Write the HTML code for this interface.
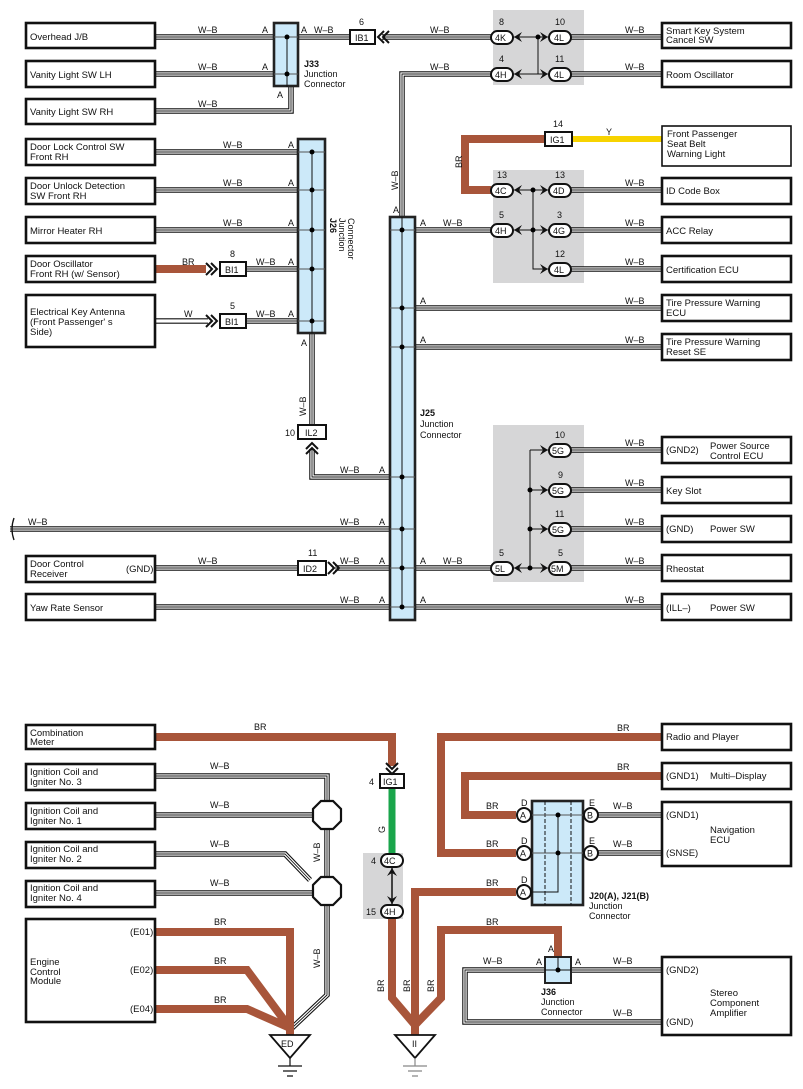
<!DOCTYPE html>
<html><head><meta charset="utf-8"><style>
html,body{margin:0;padding:0;background:#fff;}
svg{display:block;font-family:"Liberation Sans",Arial,sans-serif;}
text{font-size:9px;fill:#111;}
.b{fill:#fff;stroke:#111;stroke-width:2.6;}
.j{fill:#cce9f9;stroke:#222;stroke-width:2.6;}
.g{fill:#d6d6d7;}
.c{fill:#fff;stroke:#111;stroke-width:2;}
.br{fill:none;stroke:#a8553a;stroke-width:8;stroke-linejoin:miter;}
.bd{font-weight:bold;}
.t{font-size:9.5px;}
</style></head><body>
<svg width="803" height="1089" viewBox="0 0 803 1089" xmlns="http://www.w3.org/2000/svg">
<defs>
<g id="W" fill="none">
<path d="M155,37H273M298,37H350M382,37H491M571,37H662"/>
<path d="M155,74H273M491,74H402V217M571,74H662"/>
<path d="M155,111H291V87"/>
<path d="M155,152H298M155,190H298M155,230H298M246,269H298M246,321H298"/>
<path d="M312,333V425M312,449V477H390"/>
<path d="M571,190H662M415,230H491M571,230H662M571,269H662M415,308H662M415,347H662"/>
<path d="M571,450H662M571,490H662M571,529H662M571,568H662M415,568H491M415,607H662"/>
<path d="M10,529H390M155,568H298M335,568H390M155,607H390"/>
<path d="M155,776H327V800M155,815H313M155,854H285L310,880M155,893H313M327,829V876M327,904V995L292,1028"/>
<path d="M597,815H662M597,853H662M571,970H662M545,970H465V1022H662"/>
</g>
</defs>
<!-- gray boxes -->
<rect class="g" x="493" y="10" width="91" height="75"/>
<rect class="g" x="493" y="170" width="91" height="113"/>
<rect class="g" x="493" y="425" width="91" height="157"/>
<rect class="g" x="363" y="853" width="40" height="66"/>

<!-- W-B wires -->
<use href="#W" stroke="#111" stroke-width="5.5"/>
<use href="#W" stroke="#fff" stroke-width="3.3"/>
<use href="#W" stroke="#111" stroke-width="0.9"/>
<!-- W wire -->
<path d="M155,321H208" stroke="#111" stroke-width="5.5" fill="none"/>
<path d="M155,321H208" stroke="#fff" stroke-width="3.3" fill="none"/>

<!-- colored wires -->
<path class="br" d="M155,269H206"/>
<path class="br" d="M545,139H465V190H491"/>
<path d="M572,139H662" stroke="#f7d300" stroke-width="6"/>
<path class="br" d="M155,737H392V766"/>
<path d="M392,788V853" stroke="#1aa54b" stroke-width="7"/>
<path class="br" d="M155,932H290V1036M155,970H247L290,1028M155,1009H247L290,1028"/>
<path class="br" d="M392,919V998L415,1025V1036M516,892H415V1036M558,957V930H441V998L415,1025"/>
<path class="br" d="M662,737H441V853H516M662,776H465V815H516"/>

<!-- left boxes top -->
<rect class="b" x="26" y="23" width="129" height="25"/><text class="t" x="30" y="40">Overhead J/B</text>
<rect class="b" x="26" y="61" width="129" height="26"/><text class="t" x="30" y="78">Vanity Light SW LH</text>
<rect class="b" x="26" y="99" width="129" height="25"/><text class="t" x="30" y="115">Vanity Light SW RH</text>
<rect class="b" x="26" y="139" width="129" height="26"/><text class="t" x="30" y="150">Door Lock Control SW</text><text class="t" x="30" y="160">Front RH</text>
<rect class="b" x="26" y="178" width="129" height="26"/><text class="t" x="30" y="189">Door Unlock Detection</text><text class="t" x="30" y="199">SW Front RH</text>
<rect class="b" x="26" y="217" width="129" height="26"/><text class="t" x="30" y="234">Mirror Heater RH</text>
<rect class="b" x="26" y="256" width="129" height="26"/><text class="t" x="30" y="267">Door Oscillator</text><text class="t" x="30" y="277">Front RH (w/ Sensor)</text>
<rect class="b" x="26" y="295" width="129" height="52"/><text class="t" x="30" y="315">Electrical Key Antenna</text><text class="t" x="30" y="325">(Front Passenger' s</text><text class="t" x="30" y="335"> Side)</text>
<rect class="b" x="26" y="556" width="129" height="26"/><text class="t" x="30" y="567">Door Control</text><text class="t" x="30" y="577">Receiver</text><text class="t" x="126" y="572">(GND)</text>
<rect class="b" x="26" y="594" width="129" height="26"/><text class="t" x="30" y="611">Yaw Rate Sensor</text>

<!-- right boxes top -->
<rect class="b" x="662" y="23" width="129" height="25"/><text class="t" x="666" y="34">Smart Key System</text><text class="t" x="666" y="43">Cancel SW</text>
<rect class="b" x="662" y="61" width="129" height="26"/><text class="t" x="666" y="78">Room Oscillator</text>
<rect x="662" y="126" width="129" height="40" fill="#fff" stroke="#111" stroke-width="1.6"/><text class="t" x="667" y="137">Front Passenger</text><text class="t" x="667" y="147">Seat Belt</text><text class="t" x="667" y="157">Warning Light</text>
<rect class="b" x="662" y="178" width="129" height="26"/><text class="t" x="666" y="194">ID Code Box</text>
<rect class="b" x="662" y="217" width="129" height="26"/><text class="t" x="666" y="234">ACC Relay</text>
<rect class="b" x="662" y="256" width="129" height="26"/><text class="t" x="666" y="273">Certification ECU</text>
<rect class="b" x="662" y="295" width="129" height="26"/><text class="t" x="666" y="306">Tire Pressure Warning</text><text class="t" x="666" y="316">ECU</text>
<rect class="b" x="662" y="334" width="129" height="26"/><text class="t" x="666" y="345">Tire Pressure Warning</text><text class="t" x="666" y="355">Reset SE</text>
<rect class="b" x="662" y="437" width="129" height="26"/><text class="t" x="666" y="453">(GND2)</text><text class="t" x="710" y="449">Power Source</text><text class="t" x="710" y="459">Control ECU</text>
<rect class="b" x="662" y="477" width="129" height="26"/><text class="t" x="666" y="494">Key Slot</text>
<rect class="b" x="662" y="516" width="129" height="26"/><text class="t" x="666" y="532">(GND)</text><text class="t" x="710" y="532">Power SW</text>
<rect class="b" x="662" y="555" width="129" height="26"/><text class="t" x="666" y="572">Rheostat</text>
<rect class="b" x="662" y="594" width="129" height="26"/><text class="t" x="666" y="611">(ILL–)</text><text class="t" x="710" y="611">Power SW</text>

<!-- J33 -->
<rect class="j" x="274" y="23" width="24" height="63"/>
<path d="M274,37H298M274,74H298" stroke="#555" stroke-width="1"/>
<path d="M287,37V87" stroke="#111" stroke-width="1"/>
<circle cx="287" cy="37" r="2.5"/><circle cx="287" cy="74" r="2.5"/>
<text x="262" y="33">A</text><text x="262" y="70">A</text><text x="301" y="33">A</text><text x="277" y="98">A</text>
<text class="bd" x="304" y="67" font-weight="bold">J33</text><text x="304" y="77">Junction</text><text x="304" y="87">Connector</text>

<!-- J26 -->
<rect class="j" x="298" y="139" width="27" height="194"/>
<path d="M298,152H325M298,190H325M298,230H325M298,269H325M298,321H325" stroke="#555" stroke-width="1"/>
<path d="M312,152V333" stroke="#111" stroke-width="1"/>
<circle cx="312" cy="152" r="2.5"/><circle cx="312" cy="190" r="2.5"/><circle cx="312" cy="230" r="2.5"/><circle cx="312" cy="269" r="2.5"/><circle cx="312" cy="321" r="2.5"/>
<text x="288" y="148">A</text><text x="288" y="186">A</text><text x="288" y="226">A</text><text x="288" y="265">A</text><text x="288" y="317">A</text><text x="301" y="346">A</text>
<text transform="translate(330,218) rotate(90)" font-weight="bold">J26</text>
<text transform="translate(339,218) rotate(90)">Junction</text>
<text transform="translate(348,218) rotate(90)">Connector</text>

<!-- J25 -->
<rect class="j" x="390" y="217" width="25" height="403"/>
<path d="M390,230H415M390,308H415M390,347H415M390,477H415M390,529H415M390,568H415M390,607H415" stroke="#555" stroke-width="1"/>
<path d="M402,217V607" stroke="#111" stroke-width="1"/>
<circle cx="402" cy="230" r="2.5"/><circle cx="402" cy="308" r="2.5"/><circle cx="402" cy="347" r="2.5"/><circle cx="402" cy="477" r="2.5"/><circle cx="402" cy="529" r="2.5"/><circle cx="402" cy="568" r="2.5"/><circle cx="402" cy="607" r="2.5"/>
<text x="393" y="213">A</text>
<text x="420" y="226">A</text><text x="420" y="304">A</text><text x="420" y="343">A</text><text x="420" y="564">A</text><text x="420" y="603">A</text>
<text x="379" y="473">A</text><text x="379" y="525">A</text><text x="379" y="564">A</text><text x="379" y="603">A</text>
<text x="420" y="416" font-weight="bold">J25</text><text x="420" y="427">Junction</text><text x="420" y="438">Connector</text>

<!-- inline connectors (rect) -->
<rect class="c" x="350" y="30" width="25" height="14"/><text x="355" y="41">IB1</text><text x="359" y="25">6</text>
<rect class="c" x="220" y="262" width="26" height="14"/><text x="225" y="273">BI1</text><text x="230" y="257">8</text>
<rect class="c" x="220" y="314" width="26" height="14"/><text x="225" y="325">BI1</text><text x="230" y="309">5</text>
<rect class="c" x="298" y="425" width="28" height="14"/><text x="305" y="436">IL2</text><text x="285" y="436">10</text>
<rect class="c" x="298" y="561" width="28" height="14"/><text x="303" y="572">ID2</text><text x="308" y="556">11</text>
<rect class="c" x="545" y="132" width="27" height="14"/><text x="550" y="143">IG1</text><text x="553" y="127">14</text>
<rect class="c" x="380" y="774" width="24" height="14"/><text x="383" y="785">IG1</text><text x="369" y="785">4</text>

<!-- chevrons (double) -->
<g fill="none" stroke="#111" stroke-width="2">
<path d="M384,31L378,37L384,43M389,31L383,37L389,43"/>
<path d="M206,263L212,269L206,275M211,263L217,269L211,275"/>
<path d="M206,315L212,321L206,327M211,315L217,321L211,327"/>
<path d="M306,449L312,443L318,449M306,454L312,448L318,454"/>
<path d="M328,562L334,568L328,574M333,562L339,568L333,574"/>
<path d="M386,763L392,769L398,763M386,768L392,774L398,768"/>
</g>

<!-- connector lines -->
<g fill="none" stroke="#111" stroke-width="1">
<path d="M513,37H549M513,74H549M538,37V74"/>
<path d="M513,190H549M513,230H549M533,190V269H549"/>
<path d="M513,568H549M530,450V568M530,450H549M530,490H549M530,529H549"/>
<path d="M392,867V905" stroke-width="1.5"/>
</g>
<circle cx="538" cy="37" r="2.5"/>
<circle cx="533" cy="190" r="2.5"/><circle cx="533" cy="230" r="2.5"/>
<circle cx="530" cy="490" r="2.5"/><circle cx="530" cy="529" r="2.5"/><circle cx="530" cy="568" r="2.5"/>
<g fill="#111">
<path d="M514,37l8,-5l-3,5l3,5z M548,37l-8,-5l3,5l-3,5z"/>
<path d="M514,74l8,-5l-3,5l3,5z M548,74l-8,-5l3,5l-3,5z"/>
<path d="M514,190l8,-5l-3,5l3,5z M548,190l-8,-5l3,5l-3,5z"/>
<path d="M514,230l8,-5l-3,5l3,5z M548,230l-8,-5l3,5l-3,5z M548,269l-8,-5l3,5l-3,5z"/>
<path d="M548,450l-8,-5l3,5l-3,5z M548,490l-8,-5l3,5l-3,5z M548,529l-8,-5l3,5l-3,5z M548,568l-8,-5l3,5l-3,5z M514,568l8,-5l-3,5l3,5z"/>
<path d="M392,868l-5,8l5,-3l5,3z M392,904l-5,-8l5,3l5,-3z"/>
</g>
<g>
<rect class="c" x="491" y="31" width="22" height="13" rx="6.5"/><text x="495" y="41">4K</text><text x="499" y="25">8</text>
<rect class="c" x="549" y="31" width="22" height="13" rx="6.5"/><text x="554" y="41">4L</text><text x="555" y="25">10</text>
<rect class="c" x="491" y="68" width="22" height="13" rx="6.5"/><text x="495" y="78">4H</text><text x="499" y="62">4</text>
<rect class="c" x="549" y="68" width="22" height="13" rx="6.5"/><text x="554" y="78">4L</text><text x="555" y="62">11</text>
<rect class="c" x="491" y="184" width="22" height="13" rx="6.5"/><text x="495" y="194">4C</text><text x="497" y="178">13</text>
<rect class="c" x="549" y="184" width="22" height="13" rx="6.5"/><text x="553" y="194">4D</text><text x="555" y="178">13</text>
<rect class="c" x="491" y="224" width="22" height="13" rx="6.5"/><text x="495" y="234">4H</text><text x="499" y="218">5</text>
<rect class="c" x="549" y="224" width="22" height="13" rx="6.5"/><text x="553" y="234">4G</text><text x="557" y="218">3</text>
<rect class="c" x="549" y="263" width="22" height="13" rx="6.5"/><text x="554" y="273">4L</text><text x="555" y="257">12</text>
<rect class="c" x="549" y="444" width="22" height="13" rx="6.5"/><text x="552" y="454">5G</text><text x="555" y="438">10</text>
<rect class="c" x="549" y="484" width="22" height="13" rx="6.5"/><text x="552" y="494">5G</text><text x="558" y="478">9</text>
<rect class="c" x="549" y="523" width="22" height="13" rx="6.5"/><text x="552" y="533">5G</text><text x="555" y="517">11</text>
<rect class="c" x="549" y="562" width="22" height="13" rx="6.5"/><text x="551" y="572">5M</text><text x="558" y="556">5</text>
<rect class="c" x="491" y="562" width="22" height="13" rx="6.5"/><text x="495" y="572">5L</text><text x="499" y="556">5</text>
<rect class="c" x="381" y="854" width="22" height="13" rx="6.5"/><text x="384" y="864">4C</text><text x="371" y="864">4</text>
<rect class="c" x="381" y="905" width="22" height="13" rx="6.5"/><text x="384" y="915">4H</text><text x="366" y="915">15</text>
</g>

<!-- wire labels top -->
<g>
<text x="198" y="33">W–B</text><text x="198" y="70">W–B</text><text x="198" y="107">W–B</text>
<text x="314" y="33">W–B</text>
<text x="430" y="33">W–B</text><text x="430" y="70">W–B</text>
<text x="625" y="33">W–B</text><text x="625" y="70">W–B</text>
<text x="223" y="148">W–B</text><text x="223" y="186">W–B</text><text x="223" y="226">W–B</text>
<text x="182" y="265">BR</text><text x="184" y="317">W</text>
<text x="256" y="265">W–B</text><text x="256" y="317">W–B</text>
<text x="606" y="135">Y</text>
<text transform="translate(462,168) rotate(-90)">BR</text>
<text transform="translate(398,190) rotate(-90)">W–B</text>
<text transform="translate(306,416) rotate(-90)">W–B</text>
<text x="625" y="186">W–B</text><text x="625" y="226">W–B</text><text x="625" y="265">W–B</text><text x="625" y="304">W–B</text><text x="625" y="343">W–B</text>
<text x="443" y="226">W–B</text>
<text x="340" y="473">W–B</text>
<text x="625" y="446">W–B</text><text x="625" y="486">W–B</text><text x="625" y="525">W–B</text><text x="625" y="564">W–B</text><text x="625" y="603">W–B</text>
<text x="28" y="525">W–B</text><text x="340" y="525">W–B</text>
<text x="198" y="564">W–B</text><text x="340" y="564">W–B</text><text x="443" y="564">W–B</text>
<text x="340" y="603">W–B</text>
</g>
<path d="M14,518Q10,529 14,540" fill="none" stroke="#111" stroke-width="1.3"/>

<!-- bottom left boxes -->
<rect class="b" x="26" y="725" width="129" height="24"/><text class="t" x="30" y="736">Combination</text><text class="t" x="30" y="745">Meter</text>
<rect class="b" x="26" y="764" width="129" height="26"/><text class="t" x="30" y="775">Ignition Coil and</text><text class="t" x="30" y="785">Igniter No. 3</text>
<rect class="b" x="26" y="803" width="129" height="26"/><text class="t" x="30" y="814">Ignition Coil and</text><text class="t" x="30" y="824">Igniter No. 1</text>
<rect class="b" x="26" y="842" width="129" height="26"/><text class="t" x="30" y="852">Ignition Coil and</text><text class="t" x="30" y="862">Igniter No. 2</text>
<rect class="b" x="26" y="881" width="129" height="26"/><text class="t" x="30" y="891">Ignition Coil and</text><text class="t" x="30" y="901">Igniter No. 4</text>
<rect class="b" x="26" y="919" width="129" height="103"/><text class="t" x="30" y="965">Engine</text><text class="t" x="30" y="975">Control</text><text class="t" x="30" y="984">Module</text>
<text class="t" x="130" y="935">(E01)</text><text class="t" x="130" y="973">(E02)</text><text class="t" x="130" y="1012">(E04)</text>
<text x="254" y="730">BR</text>
<text x="210" y="769">W–B</text><text x="210" y="808">W–B</text><text x="210" y="847">W–B</text><text x="210" y="886">W–B</text>
<text x="214" y="925">BR</text><text x="214" y="964">BR</text><text x="214" y="1003">BR</text>
<text transform="translate(320,862) rotate(-90)">W–B</text>
<text transform="translate(320,968) rotate(-90)">W–B</text>
<text transform="translate(385,833) rotate(-90)">G</text>
<text transform="translate(384,992) rotate(-90)">BR</text>
<text transform="translate(410,992) rotate(-90)">BR</text>
<text transform="translate(434,992) rotate(-90)">BR</text>

<!-- octagons -->
<polygon points="321,801 333,801 341,809 341,821 333,829 321,829 313,821 313,809" fill="#fff" stroke="#111" stroke-width="2.2"/>
<polygon points="321,877 333,877 341,885 341,897 333,905 321,905 313,897 313,885" fill="#fff" stroke="#111" stroke-width="2.2"/>

<!-- grounds -->
<polygon points="270,1035 310,1035 290,1058" fill="#fff" stroke="#111" stroke-width="1.8"/><text x="281" y="1047">ED</text>
<path d="M290,1058V1066M278,1066H302M283,1071H297M287,1076H293" stroke="#111" stroke-width="1.2"/>
<polygon points="395,1035 435,1035 415,1058" fill="#fff" stroke="#111" stroke-width="1.8"/><text x="412" y="1047">II</text>
<path d="M415,1058V1066M403,1066H427M408,1071H422M412,1076H418" stroke="#888" stroke-width="1.2"/>

<!-- bottom right boxes -->
<rect class="b" x="662" y="724" width="129" height="26"/><text class="t" x="666" y="740">Radio and Player</text>
<rect class="b" x="662" y="763" width="129" height="26"/><text class="t" x="666" y="779">(GND1)</text><text class="t" x="710" y="779">Multi–Display</text>
<rect class="b" x="662" y="802" width="129" height="64"/><text class="t" x="666" y="818">(GND1)</text><text class="t" x="666" y="856">(SNSE)</text><text class="t" x="710" y="833">Navigation</text><text class="t" x="710" y="843">ECU</text>
<rect class="b" x="662" y="957" width="129" height="78"/><text class="t" x="666" y="973">(GND2)</text><text class="t" x="666" y="1025">(GND)</text><text class="t" x="710" y="996">Stereo</text><text class="t" x="710" y="1006">Component</text><text class="t" x="710" y="1016">Amplifier</text>
<text x="617" y="731">BR</text><text x="617" y="770">BR</text>
<text x="486" y="809">BR</text><text x="486" y="847">BR</text><text x="486" y="886">BR</text><text x="486" y="925">BR</text>
<text x="613" y="809">W–B</text><text x="613" y="847">W–B</text><text x="613" y="964">W–B</text><text x="613" y="1016">W–B</text><text x="483" y="964">W–B</text>

<!-- J20/J21 -->
<rect class="j" x="532" y="801" width="51" height="104"/>
<path d="M545,801V905M571,801V905" stroke="#111" stroke-width="1" stroke-dasharray="4,2"/>
<path d="M530,815H590M530,853H590" stroke="#555" stroke-width="1"/>
<path d="M558,815V892H530" stroke="#111" stroke-width="1" fill="none"/>
<circle cx="558" cy="815" r="2.5"/><circle cx="558" cy="853" r="2.5"/>
<g>
<circle class="c" cx="524" cy="815" r="7"/><text x="520" y="818.5">A</text><text x="521" y="806">D</text>
<circle class="c" cx="524" cy="853" r="7"/><text x="520" y="856.5">A</text><text x="521" y="844">D</text>
<circle class="c" cx="524" cy="892" r="7"/><text x="520" y="895.5">A</text><text x="521" y="883">D</text>
<circle class="c" cx="591" cy="815" r="7"/><text x="587" y="818.5">B</text><text x="589" y="806">E</text>
<circle class="c" cx="591" cy="853" r="7"/><text x="587" y="856.5">B</text><text x="589" y="844">E</text>
</g>
<text x="589" y="899" font-weight="bold">J20(A), J21(B)</text><text x="589" y="909">Junction</text><text x="589" y="919">Connector</text>

<!-- J36 -->
<rect class="j" x="545" y="957" width="26" height="26" style="stroke-width:2"/>
<path d="M545,970H571" stroke="#111" stroke-width="1"/>
<path d="M558,957V970" stroke="#111" stroke-width="1"/>
<circle cx="558" cy="970" r="2.5"/>
<text x="548" y="952">A</text><text x="536" y="965">A</text><text x="575" y="965">A</text>
<text x="541" y="995" font-weight="bold">J36</text><text x="541" y="1005">Junction</text><text x="541" y="1015">Connector</text>
</svg>
</body></html>
